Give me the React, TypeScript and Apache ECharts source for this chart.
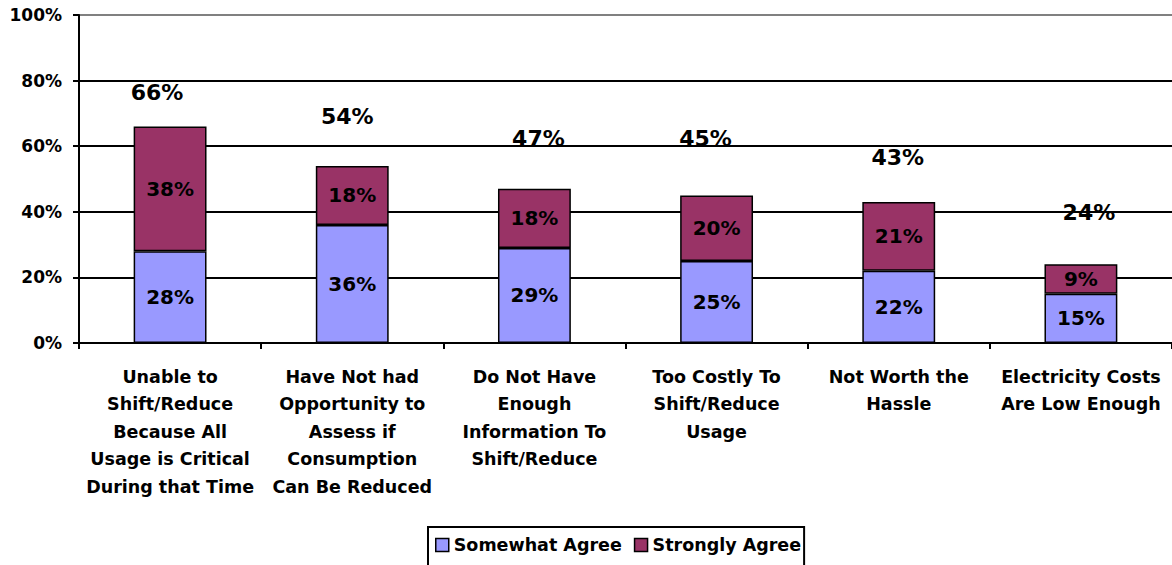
import React, { useEffect, useRef } from "react";
import * as echarts from "echarts";

const categories = [
  "Unable to\nShift/Reduce\nBecause All\nUsage is Critical\nDuring that Time",
  "Have Not had\nOpportunity to\nAssess if\nConsumption\nCan Be Reduced",
  "Do Not Have\nEnough\nInformation To\nShift/Reduce",
  "Too Costly To\nShift/Reduce\nUsage",
  "Not Worth the\nHassle",
  "Electricity Costs\nAre Low Enough",
];
const somewhatAgree = [28, 36, 29, 25, 22, 15];
const stronglyAgree = [38, 18, 18, 20, 21, 9];
const totals = [66, 54, 47, 45, 43, 24];
const yTicks = [0, 20, 40, 60, 80, 100];

// label offsets of the totals relative to the top of each stack (as in the source)
const totalOffsets: [number, number][] = [
  [-13, -34],
  [-5, -49],
  [4, -50],
  [-11, -57],
  [-1, -44],
  [8, -52],
];

const FONT = "DejaVu Sans, Liberation Sans, Arial, sans-serif";

export default function App() {
  const ref = useRef<HTMLDivElement>(null);
  useEffect(() => {
    if (!ref.current) return;
    const chart = echarts.init(ref.current, undefined, { renderer: "svg" });
    const gridColors = yTicks.map((t) => (t === 100 ? "#808080" : "#000000"));
    const barLabel = {
      show: true,
      position: "inside",
      formatter: "{c}%",
      fontFamily: FONT,
      fontWeight: "bold",
      fontSize: 20,
      color: "#000",
    };
    chart.setOption({
      animation: false,
      textStyle: { fontFamily: FONT },
      grid: { left: 79, right: -6, top: 15, bottom: 222, containLabel: false },
      legend: {
        top: 527,
        left: 428,
        data: ["Somewhat Agree", "Strongly Agree"],
        icon: "rect",
        itemWidth: 13,
        itemHeight: 13,
        itemGap: 12,
        borderColor: "#000",
        borderWidth: 2,
        borderRadius: 0,
        padding: [9, 3, 14, 7],
        textStyle: { fontFamily: FONT, fontWeight: "bold", fontSize: 17.5, color: "#000", padding: [0, 0, 0, 0] },
        itemStyle: { borderColor: "#000", borderWidth: 1.5 },
      },
      xAxis: {
        type: "category",
        data: categories,
        boundaryGap: true,
        axisLine: { lineStyle: { color: "#000", width: 2 } },
        axisTick: { show: true, length: 6, lineStyle: { color: "#000", width: 2 } },
        axisLabel: {
          interval: 0,
          margin: 20,
          fontFamily: FONT,
          fontWeight: "bold",
          fontSize: 17.5,
          lineHeight: 27.5,
          color: "#000",
        },
      },
      yAxis: {
        type: "value",
        min: 0,
        max: 100,
        interval: 20,
        axisLine: { show: true, lineStyle: { color: "#000", width: 2 } },
        axisTick: { show: true, length: 6, lineStyle: { color: "#000", width: 2 } },
        axisLabel: {
          formatter: "{value}%",
          margin: 17,
          fontFamily: FONT,
          fontWeight: "bold",
          fontSize: 17,
          color: "#000",
        },
        splitLine: { show: true, lineStyle: { color: gridColors, width: 2 } },
      },
      series: [
        {
          name: "Somewhat Agree",
          type: "bar",
          stack: "total",
          data: somewhatAgree,
          barWidth: "40%",
          itemStyle: { color: "#9999FF", borderColor: "#000", borderWidth: 1.5 },
          label: barLabel,
        },
        {
          name: "Strongly Agree",
          type: "bar",
          stack: "total",
          data: stronglyAgree,
          barWidth: "40%",
          itemStyle: { color: "#993366", borderColor: "#000", borderWidth: 1.5 },
          label: barLabel,
        },
        {
          name: "Total",
          type: "scatter",
          symbolSize: 0,
          itemStyle: { color: "rgba(0,0,0,0)", opacity: 1 },
          z: 1,
          silent: true,
          data: totals.map((v, i) => ({
            value: [i, v],
            label: { offset: totalOffsets[i] },
          })),
          label: {
            show: true,
            position: "inside",
            formatter: (p: any) => `${p.value[1]}%`,
            fontFamily: FONT,
            fontWeight: "bold",
            fontSize: 22,
            color: "#000",
            opacity: 1,
          },
        },
      ],
    });
    return () => chart.dispose();
  }, []);
  return (
    <div
      ref={ref}
      style={{ position: "absolute", left: 0, top: 0, width: 1172, height: 565 }}
    />
  );
}
